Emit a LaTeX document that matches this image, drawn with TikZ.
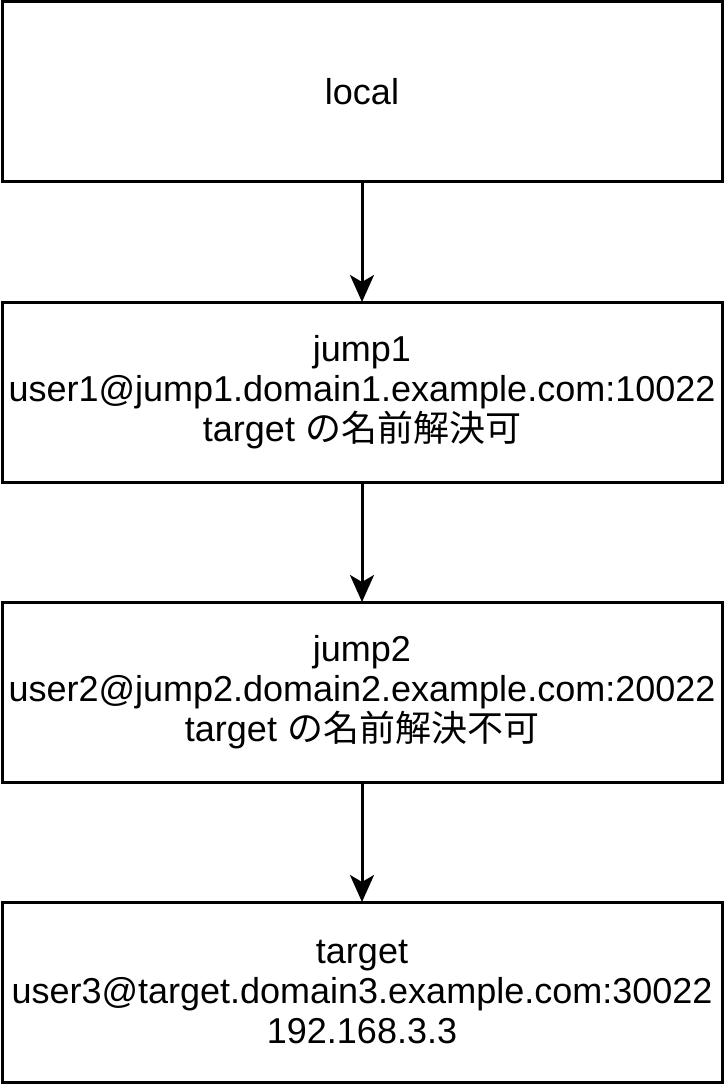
\documentclass[tikz,border=0pt]{standalone}
\usepackage{fontspec}
\setmainfont{Liberation Sans}
\newfontfamily\jpfont{Noto Sans CJK JP}
\usetikzlibrary{positioning,arrows.meta}

\begin{document}
\begin{tikzpicture}[x=1pt, y=1pt, node distance=120pt,
    hostbox/.style={draw, line width=3pt, outer sep=0pt, minimum width=720pt,
      minimum height=180pt, align=center, font=\fontsize{36}{40}\selectfont},
    hop/.style={-{Stealth[length=27pt,width=24pt,inset=7pt]}, line width=3pt}]
  \useasboundingbox (0,0) rectangle (726,-1086);
  \node[hostbox] (local) at (362,-92) {local};
  \node[hostbox, below=of local] (jump1)
    {jump1\\user1@jump1.domain1.example.com:10022\\target {\jpfont の名前解決可}};
  \node[hostbox, below=of jump1] (jump2)
    {jump2\\user2@jump2.domain2.example.com:20022\\target {\jpfont の名前解決不可}};
  \node[hostbox, below=of jump2] (target)
    {target\\user3@target.domain3.example.com:30022\\192.168.3.3};
  \draw[hop] (local) -- (jump1);
  \draw[hop] (jump1) -- (jump2);
  \draw[hop] (jump2) -- (target);
\end{tikzpicture}
\end{document}
